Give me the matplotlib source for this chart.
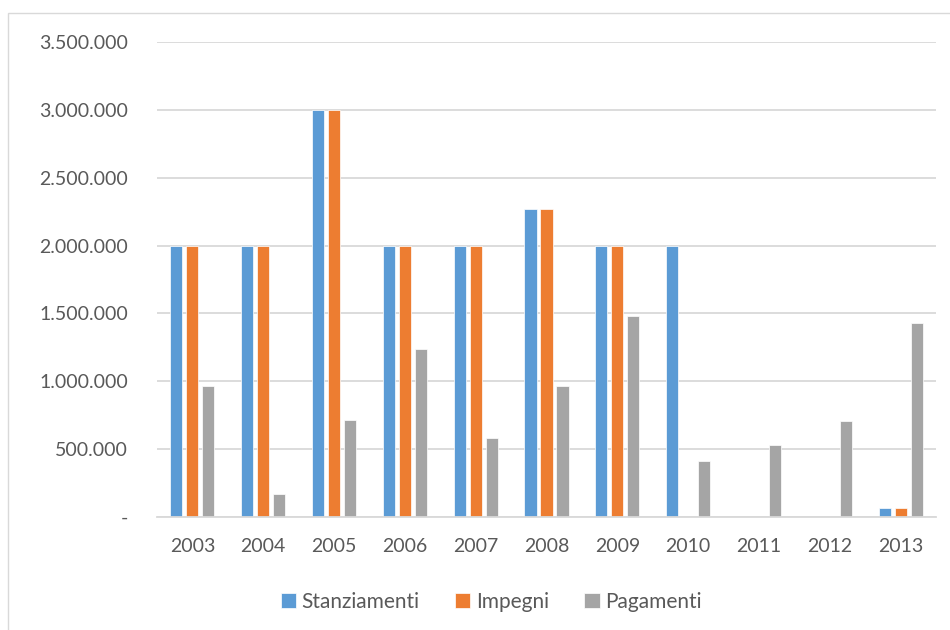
import matplotlib
matplotlib.use("Agg")
import matplotlib.pyplot as plt
import numpy as np
from matplotlib.patches import Rectangle
from matplotlib.ticker import FuncFormatter

plt.rcParams['font.family'] = ['Lato', 'DejaVu Sans']

years = ["2003", "2004", "2005", "2006", "2007", "2008", "2009", "2010", "2011", "2012", "2013"]
stanziamenti = [2000000, 2000000, 3000000, 2000000, 2000000, 2270000, 2000000, 2000000, 0, 0, 66000]
impegni = [2000000, 2000000, 3000000, 2000000, 2000000, 2270000, 2000000, 0, 0, 0, 66000]
pagamenti = [965000, 172000, 715000, 1238000, 580000, 965000, 1483000, 415000, 533000, 707000, 1432000]

series = [("Stanziamenti", stanziamenti, "#5b9bd5"),
          ("Impegni", impegni, "#ed7d31"),
          ("Pagamenti", pagamenti, "#a5a5a5")]

fig = plt.figure(figsize=(9.5, 6.3), dpi=100)
ax = fig.add_axes([157 / 950, 1 - 517 / 630, (936 - 157) / 950, (517 - 42) / 630])

# Outer chart frame
fig.patches.append(Rectangle((8 / 950, -0.05), 1.2, 1 - 13 / 630 + 0.05,
                             transform=fig.transFigure, fill=False,
                             edgecolor="#d9d9d9", linewidth=1.0))

x = np.arange(len(years))
bw = 0.17
step = 0.226
for i, (name, vals, col) in enumerate(series):
    ax.bar(x + (i - 1) * step, vals, width=bw, color=col, label=name,
           edgecolor="white", linewidth=0.5, zorder=3)

ax.set_xlim(-0.5, len(years) - 0.5)
ax.set_ylim(0, 3500000)
ax.set_yticks(np.arange(0, 3500001, 500000))


def fmt(v, pos):
    if v == 0:
        return "-"
    return f"{int(v):,}".replace(",", ".")


ax.yaxis.set_major_formatter(FuncFormatter(fmt))
ax.set_xticks(x)
ax.set_xticklabels(years)

ax.grid(axis="y", color="#d9d9d9", linewidth=1.3, zorder=0)
for s in ["top", "right", "left"]:
    ax.spines[s].set_visible(False)
ax.spines["bottom"].set_color("#d9d9d9")
ax.spines["bottom"].set_linewidth(1.3)
ax.spines["bottom"].set_zorder(4)

ax.tick_params(axis="both", length=0, colors="#595959", labelsize=14)
ax.tick_params(axis="y", pad=21)
ax.tick_params(axis="x", pad=15)

leg = fig.legend(loc="center", bbox_to_anchor=(491 / 950, 1 - 602 / 630), ncol=3,
                 frameon=False, fontsize=15, handlelength=0.75, handleheight=0.75,
                 handletextpad=0.25, columnspacing=1.7)
for t in leg.get_texts():
    t.set_color("#595959")

fig.savefig("out.png", dpi=100, facecolor="white")
